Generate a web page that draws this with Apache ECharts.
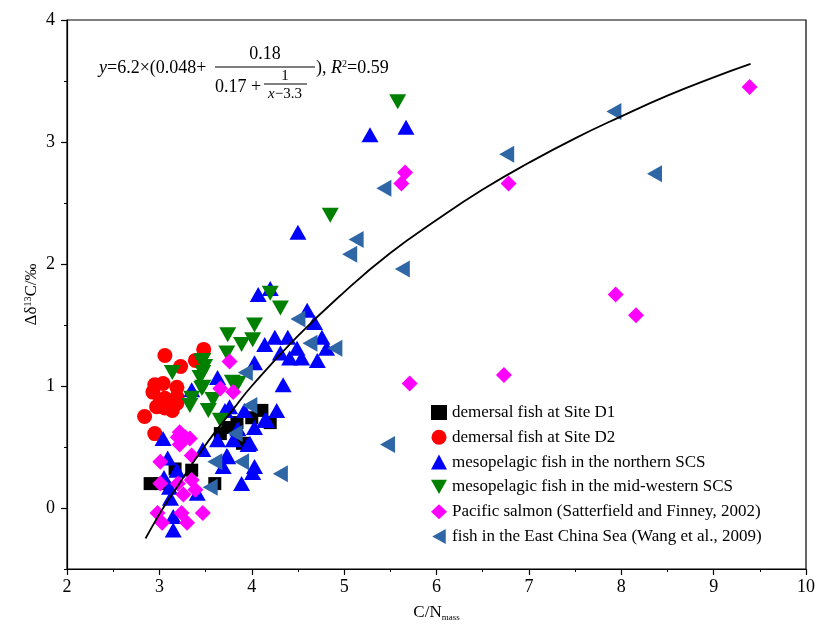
<!DOCTYPE html>
<html>
<head>
<meta charset="utf-8">
<script src="https://cdn.jsdelivr.net/npm/echarts@6/dist/echarts.min.js"></script>
<style>html,body{margin:0;padding:0;background:#fff}</style>
</head>
<body>
<div id="main" style="width:817px;height:626px"></div>
<script>
// C/N_mass (x) vs delta d13C (y)
var seriesNames = [
    'demersal fish at Site D1',
    'demersal fish at Site D2',
    'mesopelagic fish in the northern SCS',
    'mesopelagic fish in the mid-western SCS',
    'Pacific salmon (Satterfield and Finney, 2002)',
    'fish in the East China Sea (Wang et al., 2009)'
];
var siteD1 = [[2.90,0.20],[3.01,0.20],[3.17,0.32],[3.35,0.31],[3.60,0.20],[3.66,0.61],[3.74,0.66],
    [3.84,0.70],[3.90,0.53],[4.11,0.80],[4.20,0.70],[4.00,0.74]];
var siteD2 = [[3.06,1.25],[3.48,1.30],[3.23,1.16],[3.39,1.21],[2.95,1.01],[3.04,1.02],[2.93,0.95],
    [3.19,0.99],[3.06,0.90],[3.19,0.91],[2.97,0.83],[3.06,0.82],[3.19,0.86],[2.84,0.75],[2.95,0.61],
    [3.01,0.87],[3.14,0.80]];
var northSCS = [[5.28,3.06],[5.67,3.12],[4.50,2.26],[4.20,1.80],[4.07,1.75],[4.60,1.62],[4.68,1.52],
    [4.76,1.40],[4.25,1.40],[4.14,1.34],[4.39,1.40],[4.49,1.31],[4.31,1.27],[4.41,1.23],[4.54,1.23],
    [4.71,1.21],[4.81,1.31],[4.03,1.19],[4.34,1.01],[3.63,1.07],[4.27,0.80],[4.14,0.72],[4.03,0.66],
    [3.96,0.52],[3.80,0.56],[3.74,0.42],[4.03,0.34],[4.01,0.29],[3.89,0.20],[3.71,0.80],[3.04,0.57],
    [3.09,0.41],[3.19,0.31],[3.11,0.17],[3.15,-0.07],[3.15,-0.18],[3.41,0.12],[3.35,0.97],[3.47,0.48],
    [3.63,0.56],[3.73,0.43],[3.69,0.34],[3.76,0.83],[3.98,0.53],[4.16,0.72],[3.05,0.25],[3.12,0.08],
    [3.92,0.80],[3.85,0.65]];
var midWestSCS = [[5.58,3.33],[4.85,2.40],[4.20,1.76],[4.31,1.64],[4.03,1.50],[3.74,1.42],[4.01,1.38],
    [3.89,1.34],[3.73,1.27],[3.47,1.21],[3.49,1.16],[3.44,1.07],[3.85,1.02],[3.47,0.99],[3.14,1.11],
    [3.46,1.20],[3.47,1.11],[3.46,0.98],[3.35,0.90],[3.33,0.84],[3.53,0.80],[3.58,0.89],[3.66,0.72],
    [3.79,1.03]];
var salmon = [[9.39,3.45],[5.66,2.75],[5.62,2.66],[6.78,2.66],[7.94,1.75],[8.16,1.58],[6.73,1.09],
    [5.71,1.02],[3.76,1.20],[3.66,0.98],[3.80,0.95],[3.22,0.62],[3.20,0.58],[3.33,0.57],[3.22,0.52],
    [3.01,0.38],[3.35,0.43],[3.01,0.20],[3.20,0.20],[3.35,0.23],[3.26,0.11],[3.39,0.15],[2.98,-0.04],
    [3.24,-0.04],[3.47,-0.04],[3.03,-0.12],[3.30,-0.12],[3.28,0.58]];
var eastChinaSea = [[7.92,3.25],[6.76,2.90],[8.36,2.74],[5.43,2.62],[5.13,2.20],[5.06,2.08],[5.63,1.96],
    [5.47,0.52],[4.31,0.28],[4.90,1.31],[4.50,1.55],[4.63,1.35],[3.93,1.11],[3.98,0.84],[3.82,0.61],
    [3.89,0.38],[3.55,0.17],[3.60,0.38]];
// fitted curve, points
var fitCurve = [[2.85,-0.25],[3.0,-0.05],[3.1,0.07],[3.2,0.18],[3.3,0.30],[3.4,0.41],[3.6,0.62],
    [3.8,0.81],[4.0,1.00],[4.5,1.41],[5.0,1.77],[5.5,2.09],[6.0,2.36],[6.5,2.61],[7.0,2.83],
    [7.5,3.03],[8.0,3.21],[8.5,3.38],[9.0,3.53],[9.4,3.64]];
var yLabelTicks = [0, 1, 2, 3, 4];
var yMinorTicks = [-0.5, 0.5, 1.5, 2.5, 3.5];

var FONT = 'Liberation Serif';
var DOWN_TRI = 'path://M0,0 L10,0 L5,9 Z';
var LEFT_TRI = 'path://M0,5 L9,0 L9,10 Z';
var myChart = echarts.init(document.getElementById('main'));

function scatter(name, data, symbol, size, color, rotate) {
    return {
        name: name,
        type: 'scatter',
        data: data,
        symbol: symbol,
        symbolSize: size,
        symbolRotate: rotate || 0,
        itemStyle: { color: color, opacity: 1 },
        z: 3
    };
}

var option = {
    animation: false,
    grid: {
        left: 67, right: 11, top: 20, bottom: 57,
        show: true, borderColor: '#000', borderWidth: 1.2,
        outerBoundsMode: 'none'
    },
    xAxis: {
        type: 'value', min: 2, max: 10, interval: 1,
        name: '{a|C/N}{b|mass}',
        nameLocation: 'middle', nameGap: 34,
        nameTextStyle: {
            rich: {
                a: { fontFamily: FONT, fontSize: 17, color: '#000' },
                b: { fontFamily: FONT, fontSize: 9, color: '#000', padding: [10, 0, 0, 0] }
            }
        },
        axisLine: { onZero: false, lineStyle: { color: '#000', width: 1.2 } },
        axisTick: { length: 6, lineStyle: { color: '#000', width: 1.2 } },
        minorTick: { show: true, splitNumber: 2, length: 3, lineStyle: { color: '#000', width: 1 } },
        splitLine: { show: false },
        minorSplitLine: { show: false },
        axisLabel: { fontFamily: FONT, fontSize: 18, color: '#000', margin: 9 }
    },
    yAxis: [{
        type: 'value', min: -0.5, max: 4,
        name: '{a|Δδ}{s|13}{a|C/‰}',
        nameLocation: 'middle', nameGap: 26, nameRotate: 90,
        nameMoveOverlap: false,
        nameTextStyle: {
            rich: {
                a: { fontFamily: FONT, fontSize: 17, color: '#000' },
                s: { fontFamily: FONT, fontSize: 10, color: '#000', padding: [0, 0, 8, 0] }
            }
        },
        axisLine: { show: true, onZero: false, lineStyle: { color: '#000', width: 1.2 } },
        axisTick: { show: true, length: 6, customValues: yLabelTicks, lineStyle: { color: '#000', width: 1.2 } },
        splitLine: { show: false },
        axisLabel: { fontFamily: FONT, fontSize: 18, color: '#000', margin: 12, customValues: yLabelTicks }
    }, {
        type: 'value', min: -0.5, max: 4, position: 'left',
        axisLine: { show: false, onZero: false },
        axisTick: { show: true, length: 3, customValues: yMinorTicks, lineStyle: { color: '#000', width: 1 } },
        axisLabel: { show: false },
        splitLine: { show: false }
    }],
    legend: {
        orient: 'vertical', left: 426, top: 399,
        itemWidth: 16, itemHeight: 15, itemGap: 7.8,
        data: [
            { name: seriesNames[0], icon: 'rect' },
            { name: seriesNames[1], icon: 'circle' },
            { name: seriesNames[2], icon: 'triangle' },
            { name: seriesNames[3], icon: DOWN_TRI },
            { name: seriesNames[4], icon: 'diamond' },
            { name: seriesNames[5], icon: LEFT_TRI }
        ],
        textStyle: { fontFamily: FONT, fontSize: 17, color: '#000' }
    },
    series: [
        scatter(seriesNames[0], siteD1, 'rect', 13, '#000000'),
        scatter(seriesNames[1], siteD2, 'circle', 15, '#ff0000'),
        scatter(seriesNames[2], northSCS, 'triangle', [17, 15], '#0000ff'),
        scatter(seriesNames[3], midWestSCS, 'triangle', [17, 15], '#008000', 180),
        scatter(seriesNames[4], salmon, 'diamond', 16, '#ff00ff'),
        scatter(seriesNames[5], eastChinaSea, 'triangle', [17, 15], '#2e66a6', 90),
        {
            name: 'fit', type: 'line', data: fitCurve, smooth: true,
            showSymbol: false, silent: true, z: 5,
            lineStyle: { color: '#000', width: 1.8 }
        }
    ],
    graphic: [
        { type: 'text', x: 99, y: 68, style: {
            text: '{i|y}=6.2×(0.048+', fontFamily: FONT, fontSize: 18, fill: '#000', verticalAlign: 'middle',
            rich: { i: { fontFamily: FONT, fontSize: 18, fontStyle: 'italic' } } } },
        { type: 'line', shape: { x1: 215, y1: 67, x2: 315, y2: 67 }, style: { stroke: '#000', lineWidth: 1.2 } },
        { type: 'text', x: 265, y: 54, style: {
            text: '0.18', fontFamily: FONT, fontSize: 18, fill: '#000', align: 'center', verticalAlign: 'middle' } },
        { type: 'text', x: 215, y: 87, style: {
            text: '0.17 +', fontFamily: FONT, fontSize: 18, fill: '#000', verticalAlign: 'middle' } },
        { type: 'text', x: 285, y: 76, style: {
            text: '1', fontFamily: FONT, fontSize: 15, fill: '#000', align: 'center', verticalAlign: 'middle' } },
        { type: 'line', shape: { x1: 264, y1: 84, x2: 307, y2: 84 }, style: { stroke: '#000', lineWidth: 1 } },
        { type: 'text', x: 285, y: 94, style: {
            text: '{i|x}−3.3', fontFamily: FONT, fontSize: 15, fill: '#000', align: 'center', verticalAlign: 'middle',
            rich: { i: { fontFamily: FONT, fontSize: 15, fontStyle: 'italic' } } } },
        { type: 'text', x: 316, y: 68, style: {
            text: '), {i|R}{s|2}=0.59', fontFamily: FONT, fontSize: 18, fill: '#000', verticalAlign: 'middle',
            rich: {
                i: { fontFamily: FONT, fontSize: 18, fontStyle: 'italic' },
                s: { fontFamily: FONT, fontSize: 10, padding: [0, 0, 8, 0] }
            } } }
    ]
};
myChart.setOption(option);
</script>
</body>
</html>
